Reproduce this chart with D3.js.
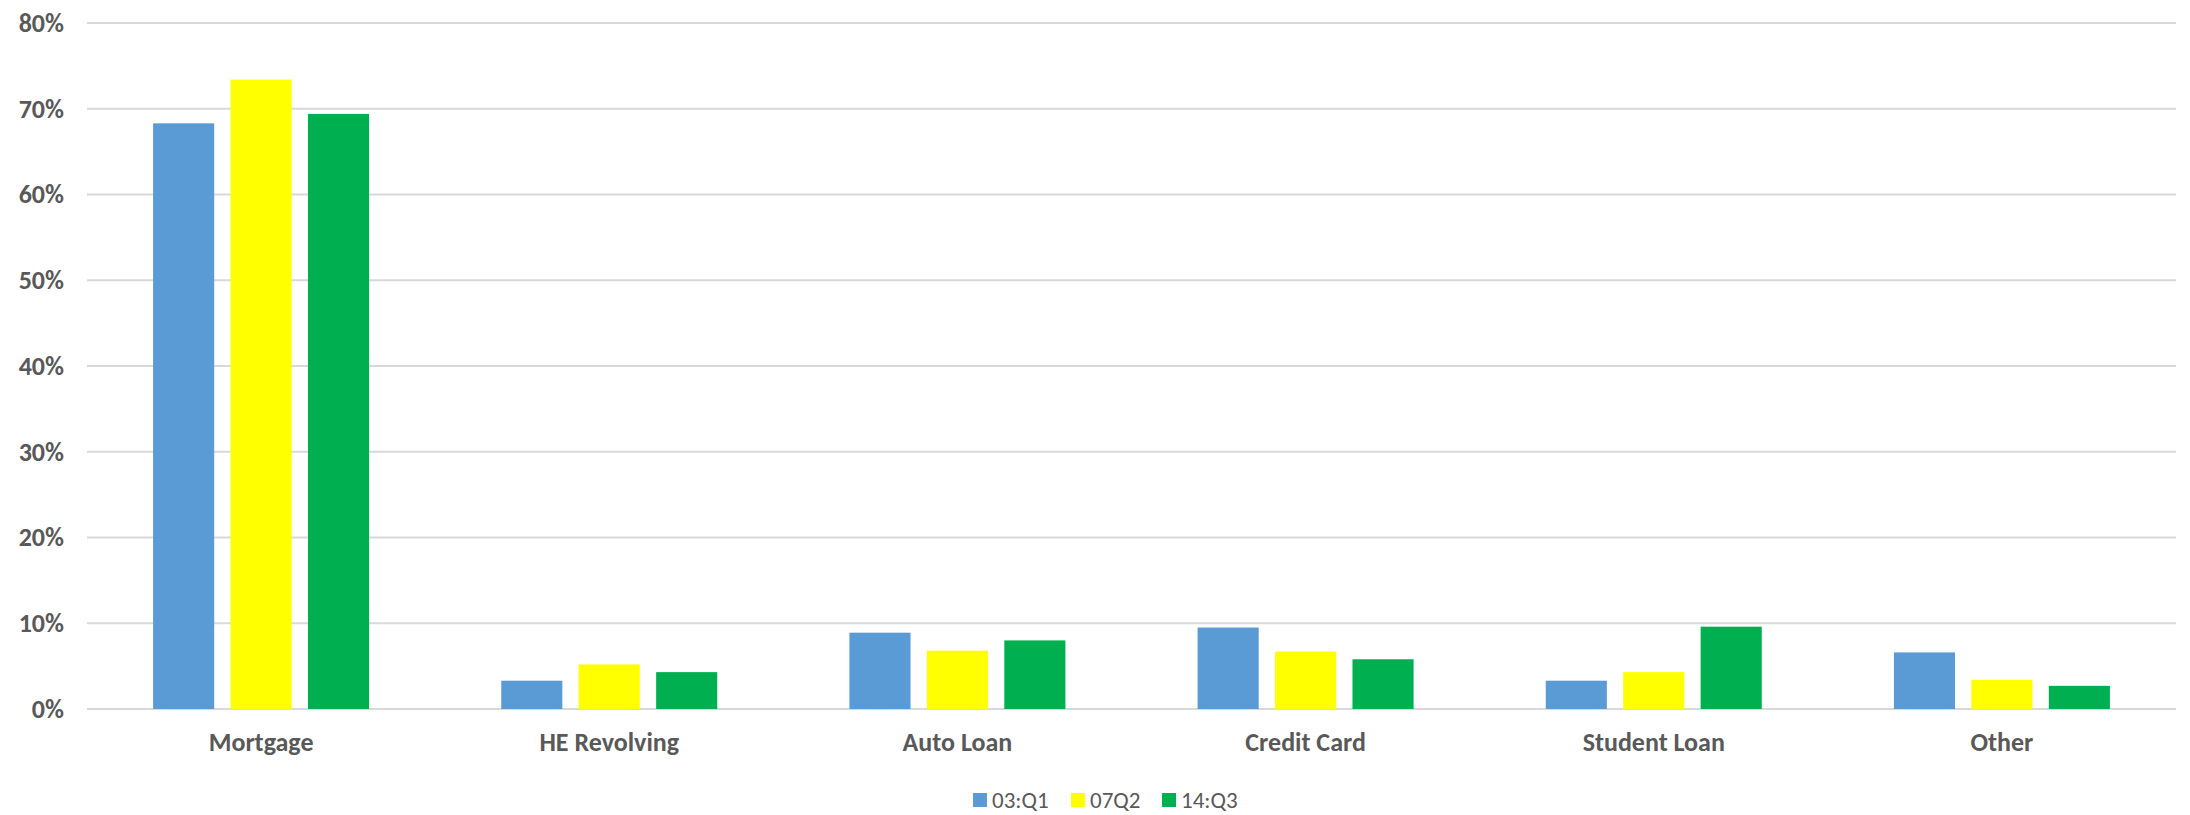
<!DOCTYPE html>
<html>
<head>
<meta charset="utf-8">
<script src="https://cdn.jsdelivr.net/npm/d3@7"></script>
<style>
  html, body { margin: 0; padding: 0; background: #fff; }
  svg { display: block; font-family: Carlito, Calibri, Lato, "Open Sans", sans-serif; }
</style>
</head>
<body>
<div id="chart"></div>
<script>
var categories = ["Mortgage", "HE Revolving", "Auto Loan", "Credit Card", "Student Loan", "Other"];
var seriesNames = ["03:Q1", "07Q2", "14:Q3"];
var seriesColors = ["#5B9BD5", "#FFFF00", "#00B050"];
var q103 = [0.683, 0.033, 0.089, 0.095, 0.033, 0.066];
var q207 = [0.734, 0.052, 0.068, 0.067, 0.043, 0.034];
var q314 = [0.694, 0.043, 0.080, 0.058, 0.096, 0.027];
var yTicks = [0, 0.1, 0.2, 0.3, 0.4, 0.5, 0.6, 0.7, 0.8];

var width = 2190, height = 815;
var margin = {top: 23, right: 14, bottom: 106, left: 87};
var seriesValues = [q103, q207, q314];

var svg = d3.select("#chart").append("svg")
    .attr("width", width)
    .attr("height", height);

var x = d3.scaleBand()
    .domain(categories)
    .range([margin.left, width - margin.right])
    .paddingInner(0)
    .paddingOuter(0);

var groupWidth = 216;
var xSub = d3.scaleBand()
    .domain(seriesNames)
    .range([0, groupWidth])
    .paddingInner(0.211)
    .paddingOuter(0);

var y = d3.scaleLinear()
    .domain([0, 0.8])
    .range([height - margin.bottom, margin.top]);

// gridlines
svg.append("g")
    .selectAll("line")
    .data(yTicks)
    .enter()
    .append("line")
    .attr("x1", margin.left)
    .attr("x2", width - margin.right)
    .attr("y1", d => y(d))
    .attr("y2", d => y(d))
    .style("stroke", "#d9d9d9")
    .style("stroke-width", 2);

// y axis labels
svg.append("g")
    .attr("transform", "translate(" + (margin.left - 23) + ",0)")
    .call(d3.axisLeft(y).tickValues(yTicks).tickSize(0).tickPadding(0)
        .tickFormat(d3.format(".0%")))
    .call(g => g.select(".domain").remove())
    .selectAll("text")
    .style("font-family", "Carlito, Calibri, Lato, 'Open Sans', sans-serif")
    .style("font-size", "26px")
    .style("font-weight", "bold")
    .style("fill", "#595959");

// bars
var rows = [];
categories.forEach((c, i) => {
    seriesNames.forEach((s, j) => {
        rows.push({cat: c, series: s, value: seriesValues[j][i], color: seriesColors[j]});
    });
});

svg.append("g")
    .selectAll("rect")
    .data(rows)
    .enter()
    .append("rect")
    .attr("x", d => x(d.cat) + (x.bandwidth() - groupWidth) / 2 + xSub(d.series))
    .attr("y", d => y(d.value))
    .attr("width", xSub.bandwidth())
    .attr("height", d => y(0) - y(d.value))
    .style("fill", d => d.color);

// x axis labels
svg.append("g")
    .attr("transform", "translate(0," + (y(0) + 24) + ")")
    .call(d3.axisBottom(x).tickSize(0).tickPadding(0))
    .call(g => g.select(".domain").remove())
    .selectAll("text")
    .style("font-family", "Carlito, Calibri, Lato, 'Open Sans', sans-serif")
    .style("font-size", "26px")
    .style("font-weight", "bold")
    .style("fill", "#595959");

// legend
var legendX = [973, 1071, 1162];
var legend = svg.append("g")
    .selectAll("g")
    .data(seriesNames)
    .enter()
    .append("g")
    .attr("transform", (d, i) => "translate(" + legendX[i] + ",793)");

legend.append("rect")
    .attr("width", 14)
    .attr("height", 14)
    .style("fill", (d, i) => seriesColors[i]);

legend.append("text")
    .attr("x", 19)
    .attr("y", 7)
    .attr("dy", "0.35em")
    .style("font-size", "23px")
    .style("fill", "#595959")
    .text(d => d);
</script>
</body>
</html>
